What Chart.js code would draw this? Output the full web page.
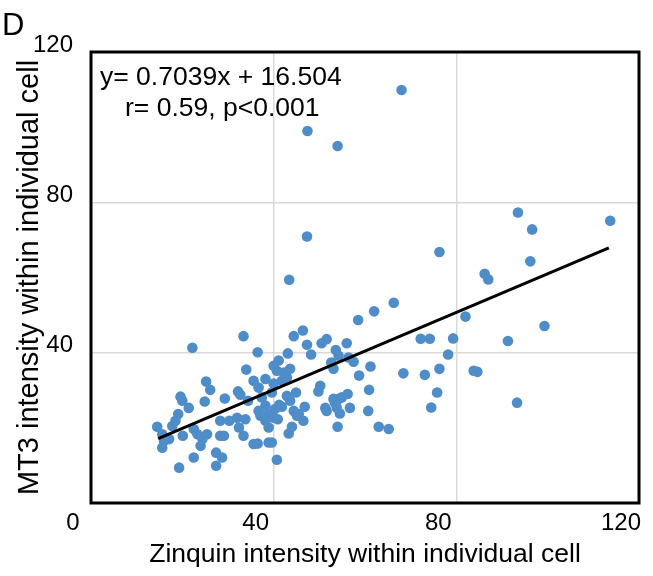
<!DOCTYPE html>
<html>
<head>
<meta charset="utf-8">
<script src="https://cdn.jsdelivr.net/npm/chart.js@4"></script>
<style>
    body { margin: 0; background: #fff; }
    #wrap { width: 653px; height: 576px; }
</style>
</head>
<body>
<div id="wrap"><canvas id="scatterChart" width="653" height="576"></canvas></div>
<script>
// Zinquin (x) and MT3 (y) intensity per cell
const zinquin = [
    68.0, 47.4, 54.0, 47.3, 43.4, 76.3, 66.3, 62.0, 58.5, 33.4, 44.4, 46.4, 51.6, 72.2, 74.2,
    93.5, 113.7, 96.6, 96.2, 86.2, 87.0, 82.0, 99.3, 79.3, 91.3, 78.2, 68.4, 73.1, 76.3, 83.8,
    84.6, 75.8, 74.5, 93.3, 47.3, 48.2, 50.5, 56.0, 53.6, 54.2, 43.1, 41.1, 40.0, 40.7, 42.2,
    43.6, 41.8, 42.9, 52.6, 53.1, 56.4, 57.5, 61.2, 58.7, 40.0, 39.6, 44.9, 42.9, 43.6, 50.2,
    49.8, 53.1, 54.2, 54.9, 56.2, 60.9, 60.7, 56.7, 54.5, 51.3, 51.6, 53.4, 53.8, 41.2, 41.8,
    40.3, 46.8, 44.4, 45.1, 45.5, 46.5, 40.9, 40.0, 44.0, 43.3, 54.0, 63.0, 65.2, 39.6, 40.7,
    22.2, 36.5, 34.0, 25.2, 26.1, 35.6, 36.7, 38.2, 19.6, 20.0, 21.4, 24.9, 29.3, 32.2, 32.7,
    34.4, 37.4, 38.2, 38.9, 19.1, 18.5, 17.8, 14.5, 15.6, 16.0, 15.6, 17.1, 20.1, 22.5, 23.3,
    24.4, 25.4, 24.0, 22.5, 19.3, 27.4, 28.7, 27.4, 28.3, 28.3, 29.1, 30.3, 32.0, 32.4, 33.4,
    33.8, 35.6, 36.5, 38.9, 38.2, 38.9, 36.7, 37.1
];
const mt3 = [
    109.9, 99.0, 95.0, 70.9, 59.4, 66.8, 53.3, 51.0, 48.7, 44.4, 44.4, 45.9, 43.6, 43.7, 43.7,
    77.3, 75.1, 72.8, 64.3, 61.0, 59.5, 49.6, 47.1, 43.8, 43.1, 39.5, 34.5, 34.1, 35.7, 35.2,
    34.9, 29.4, 25.4, 26.7, 42.1, 39.5, 42.5, 42.5, 40.7, 39.2, 39.8, 37.9, 36.5, 35.2, 34.7,
    35.7, 32.5, 33.4, 37.4, 35.7, 38.7, 37.6, 36.3, 33.9, 31.8, 29.4, 29.4, 28.5, 27.2, 31.2,
    29.7, 27.7, 27.7, 28.1, 29.0, 30.1, 24.5, 25.3, 23.8, 25.3, 24.5, 26.7, 25.4, 26.1, 25.6,
    25.0, 25.6, 24.5, 23.2, 23.7, 21.9, 22.3, 22.7, 20.3, 18.5, 20.3, 20.3, 19.7, 16.1, 11.5,
    41.3, 40.1, 35.5, 32.3, 30.1, 32.5, 30.7, 33.0, 28.3, 27.2, 25.3, 27.0, 27.8, 29.7, 28.8,
    27.2, 28.1, 25.9, 23.7, 23.7, 21.9, 20.5, 20.3, 18.3, 16.5, 14.7, 17.0, 17.9, 19.7, 18.3,
    17.0, 18.3, 15.2, 12.1, 9.4, 13.4, 12.1, 9.9, 21.9, 17.9, 17.9, 21.9, 22.7, 20.1, 17.9,
    22.3, 15.7, 15.8, 16.1, 21.9, 20.1, 24.5, 23.2
];

// Trend line end points as drawn in the figure
const trendX = [14.7, 113.4];
const trendY = [17.1, 67.9];

const axisTicks = [0, 40, 80, 120];
const equationText = 'y= 0.7039x + 16.504';
const statsText = 'r= 0.59, p<0.001';

const FONT = "'Liberation Sans', Arial, sans-serif";

/**
 * Draws the frame, panel letter and regression text
 */
const annotationPlugin = {
    id: 'annotations',
    afterDraw(chart) {
        const ctx = chart.ctx;
        const area = chart.chartArea;
        ctx.save();
        ctx.strokeStyle = '#000';
        ctx.lineWidth = 3;
        ctx.strokeRect(area.left, area.top, area.right - area.left, area.bottom - area.top);

        ctx.fillStyle = '#000';
        ctx.textBaseline = 'alphabetic';
        ctx.textAlign = 'left';
        ctx.font = `31px ${FONT}`;
        ctx.fillText('D', 2, 35);

        ctx.font = `26.5px ${FONT}`;
        ctx.fillText(equationText, 100, 85);
        ctx.fillText(statsText, 125, 116);
        ctx.restore();
    }
};

function gridColor(c) {
    return (c.tick.value === 0 || c.tick.value === 120) ? 'rgba(0,0,0,0)' : '#d9d9d9';
}

const points = zinquin.map((x, i) => ({ x: x, y: mt3[i] }));
const trend = trendX.map((x, i) => ({ x: x, y: trendY[i] }));

new Chart(document.getElementById('scatterChart'), {
    type: 'scatter',
    data: {
        datasets: [{
            type: 'line',
            label: 'Trend',
            data: trend,
            borderColor: '#000',
            borderWidth: 3,
            pointRadius: 0,
            fill: false,
            order: 0
        }, {
            label: 'Cells',
            data: points,
            backgroundColor: '#4f8dc9',
            borderColor: '#4f8dc9',
            borderWidth: 0,
            pointRadius: 5.3,
            order: 1
        }]
    },
    options: {
        responsive: false,
        animation: false,
        layout: { padding: { top: 52, right: 14, left: 0, bottom: 0 } },
        plugins: {
            legend: { display: false },
            tooltip: { enabled: false }
        },
        scales: {
            x: {
                type: 'linear',
                min: 0,
                max: 120,
                afterBuildTicks: (scale) => { scale.ticks = axisTicks.map(v => ({ value: v })); },
                afterFit: (scale) => {
                    scale.height = 73;
                    scale.paddingLeft = 0;
                    scale.paddingRight = 0;
                },
                grid: { color: gridColor, lineWidth: 1.5, drawTicks: false },
                border: { display: false },
                ticks: {
                    color: '#000',
                    font: { family: FONT, size: 24 },
                    padding: 6,
                    labelOffset: -18,
                    maxRotation: 0
                },
                title: {
                    display: true,
                    text: 'Zinquin intensity within individual cell',
                    color: '#000',
                    font: { family: FONT, size: 26.5 },
                    padding: { top: 0, bottom: 5 }
                }
            },
            y: {
                type: 'linear',
                min: 0,
                max: 120,
                afterBuildTicks: (scale) => { scale.ticks = axisTicks.map(v => ({ value: v })); },
                afterFit: (scale) => {
                    scale.width = 91;
                    scale.paddingTop = 0;
                    scale.paddingBottom = 0;
                },
                grid: { color: gridColor, lineWidth: 1.5, drawTicks: false },
                border: { display: false },
                ticks: {
                    color: '#000',
                    font: { family: FONT, size: 24 },
                    padding: 18,
                    labelOffset: -7,
                    callback: (value) => value === 0 ? '' : value
                },
                title: {
                    display: true,
                    text: 'MT3 intensity within individual cell',
                    color: '#000',
                    font: { family: FONT, size: 29 },
                    padding: { top: 13, bottom: 0 }
                }
            }
        }
    },
    plugins: [annotationPlugin]
});
</script>
</body>
</html>
